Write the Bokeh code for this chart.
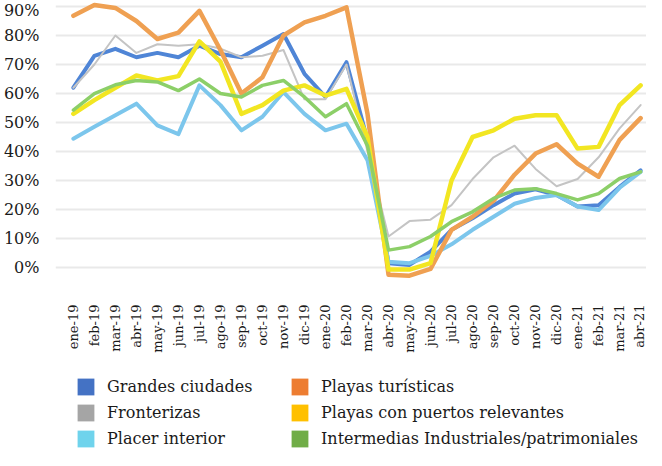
from bokeh.plotting import figure
from bokeh.layouts import column
from bokeh.models import Range1d, Legend, LegendItem, FixedTicker, PrintfTickFormatter
from bokeh.embed import file_html
from bokeh.resources import INLINE
import math

months = ["ene-19", "feb-19", "mar-19", "abr-19", "may-19", "jun-19", "jul-19", "ago-19",
          "sep-19", "oct-19", "nov-19", "dic-19", "ene-20", "feb-20", "mar-20", "abr-20",
          "may-20", "jun-20", "jul-20", "ago-20", "sep-20", "oct-20", "nov-20", "dic-20",
          "ene-21", "feb-21", "mar-21", "abr-21"]

grandes_ciudades = [62, 73, 75.4, 72.5, 74, 72.5, 76.5, 73.6, 72.5, 76.5, 80.5, 66.8, 58.8, 70.8,
                    44, 1.5, 0.9, 5.5, 13, 17, 21.5, 25.5, 27, 25, 21, 21.5, 27.8, 33.5]
fronterizas = [62, 70, 80, 74, 77, 76.5, 77, 75.5, 72.5, 73, 75, 58, 58, 70,
               40, 10.7, 16, 16.5, 21.5, 30.5, 38, 42, 34, 28, 30.5, 38, 48, 56]
placer_interior = [44.4, 48.5, 52.5, 56.5, 49, 46, 62.8, 56, 47.3, 52, 60.5, 53, 47.3, 49.6,
                   37, 2, 1.5, 4, 8, 13, 17.5, 22, 24, 25, 21, 19.8, 27.5, 33]
playas_turisticas = [86.8, 90.5, 89.5, 85, 78.8, 81, 88.5, 75, 60, 65.6, 80, 84.5, 86.8, 89.7,
                     53, -2.5, -2.8, -0.5, 13, 17.5, 23, 32, 39.3, 42.5, 35.8, 31.3, 44, 51.5]
playas_puertos = [53, 57.7, 62, 66.2, 64.5, 66, 78, 71, 53, 56, 61, 62.8, 59.3, 61.6,
                  45, -0.7, -0.7, 1.5, 30, 45, 47.3, 51.3, 52.5, 52.5, 41, 41.6, 56, 62.8]
intermedias = [54.3, 60, 63, 64.5, 64, 61, 65, 60, 58.8, 62.8, 64.5, 58.8, 52, 56.5,
               42, 6, 7.2, 10.7, 15.8, 19.2, 23.8, 26.7, 27.2, 25.5, 23.3, 25.5, 30.7, 33]

series_names = ["Grandes ciudades", "Fronterizas", "Placer interior",
                "Playas turísticas", "Playas con puertos relevantes",
                "Intermedias Industriales/patrimoniales"]
series_values = [grandes_ciudades, fronterizas, placer_interior,
                 playas_turisticas, playas_puertos, intermedias]
line_colors = ["#4F85D6", "#C4C4C4", "#7CC6EC", "#EFA052", "#F2E622", "#8CCF68"]
line_widths = [4, 2, 4, 4.5, 4.5, 3.5]
legend_colors = ["#4472C4", "#A5A5A5", "#6FD3EC", "#ED7D31", "#FFC000", "#70AD47"]
y_ticks = [0, 10, 20, 30, 40, 50, 60, 70, 80, 90]

FONT = "DejaVu Serif"
xs = list(range(len(months)))

p = figure(width=646, height=360, output_backend="svg", toolbar_location=None,
           x_range=Range1d(-0.85, 27.28), y_range=Range1d(-6.2, 92.07),
           min_border_left=50, min_border_right=0, min_border_top=0, min_border_bottom=75)
p.outline_line_color = None
p.background_fill_color = "white"

for vals, col, lw in zip(series_values, line_colors, line_widths):
    p.line(xs, vals, line_color=col, line_width=lw, line_join="round", line_cap="round")

# axes
p.yaxis.ticker = FixedTicker(ticks=y_ticks)
p.yaxis.formatter = PrintfTickFormatter(format="%d%%")
p.yaxis.major_label_text_font = FONT
p.yaxis.major_label_text_font_size = "16px"
p.yaxis.major_label_text_color = "#1a1a1a"
p.yaxis.major_label_standoff = 10
p.yaxis.axis_line_color = None
p.yaxis.major_tick_line_color = None
p.yaxis.minor_tick_line_color = None

p.xaxis.ticker = FixedTicker(ticks=xs)
p.xaxis.major_label_overrides = {i: m for i, m in enumerate(months)}
p.xaxis.major_label_orientation = math.pi / 2
p.xaxis.major_label_text_font = FONT
p.xaxis.major_label_text_font_size = "13px"
p.xaxis.major_label_text_color = "#1a1a1a"
p.xaxis.major_label_standoff = 13
p.xaxis.axis_line_color = None
p.xaxis.major_tick_line_color = None
p.xaxis.minor_tick_line_color = None

p.xgrid.grid_line_color = None
p.ygrid.ticker = FixedTicker(ticks=y_ticks)
p.ygrid.grid_line_color = "#E9E9E9"
p.ygrid.grid_line_width = 2

# legend figure (no axes); its frame is aligned with the chart frame by the column layout
lf = figure(width=646, height=90, output_backend="svg", toolbar_location=None,
            x_range=Range1d(0, 1), y_range=Range1d(0, 1),
            x_axis_location=None, y_axis_location=None,
            min_border_left=0, min_border_right=0, min_border_top=0, min_border_bottom=0)
lf.grid.visible = False
lf.outline_line_color = None

# hidden swatch renderers used only for the legend's square keys
proxies = []
for col in legend_colors:
    r = lf.quad(left=[0], right=[1], top=[1], bottom=[0], fill_color=col, line_color=None)
    r.visible = False
    proxies.append(r)

def make_legend(idx, loc):
    items = [LegendItem(label=series_names[i], renderers=[proxies[i]]) for i in idx]
    return Legend(items=items, location=loc, orientation="vertical",
                  glyph_width=21, glyph_height=21, label_height=21, spacing=5,
                  label_standoff=11, padding=0, margin=0,
                  label_text_font=FONT, label_text_font_size="16px",
                  label_text_color="#1a1a1a",
                  border_line_color=None, background_fill_alpha=0)

lf.add_layout(make_legend([0, 1, 2], (20, 1)), "center")
lf.add_layout(make_legend([3, 4, 5], (234, 1)), "center")

layout = column(p, lf, spacing=0)
open("out.html", "w").write(file_html(layout, INLINE))
